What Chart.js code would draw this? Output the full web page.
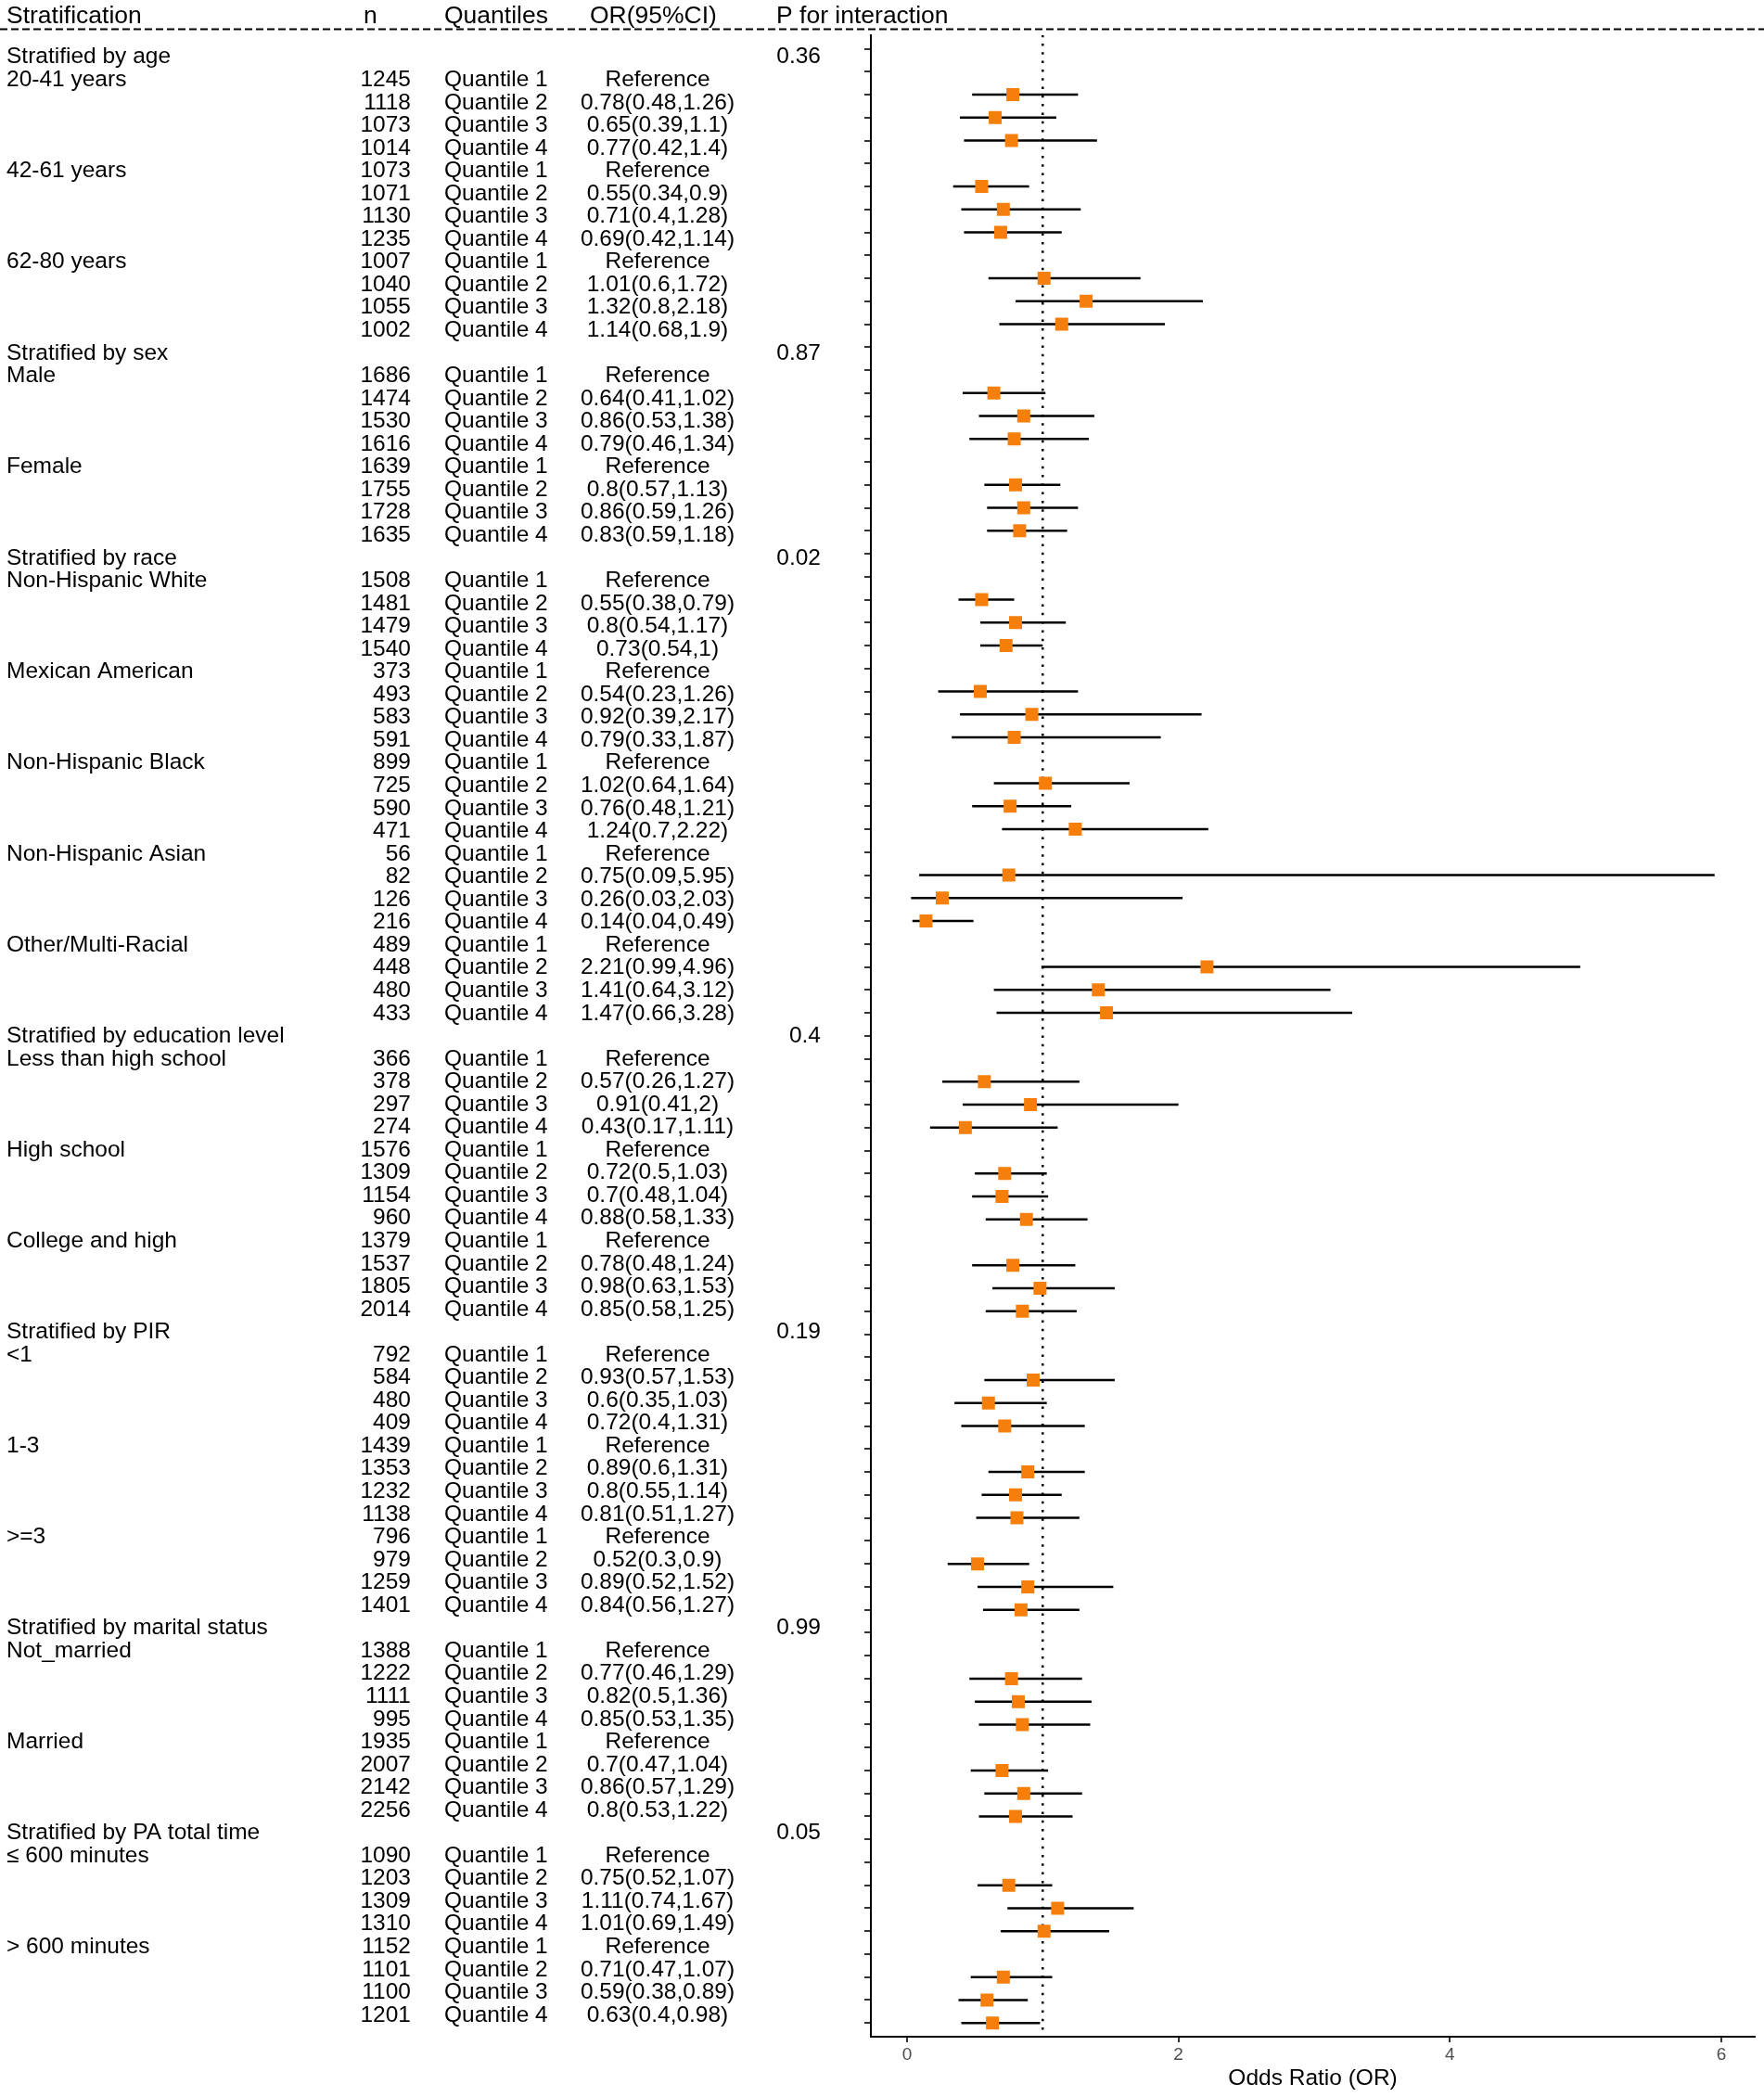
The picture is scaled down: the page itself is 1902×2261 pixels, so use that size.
<!DOCTYPE html>
<html>
<head>
<meta charset="utf-8">
<script src="https://cdn.jsdelivr.net/npm/chart.js@4/dist/chart.umd.min.js"></script>
<style>
  html, body { margin: 0; padding: 0; background: #fff; }
  canvas { display: block; }
</style>
</head>
<body>
<canvas id="forest" width="1902" height="2261"></canvas>
<script>
const columnTitles = ["Stratification", "n", "Quantiles", "OR(95%CI)", "P for interaction"];
const strata = [
  "Stratified by age", "Stratified by sex", "Stratified by race",
  "Stratified by education level", "Stratified by PIR",
  "Stratified by marital status", "Stratified by PA total time"
];
const pInteraction = ["0.36", "0.87", "0.02", "0.4", "0.19", "0.99", "0.05"];
const subgroups = [
  ["20-41 years", "42-61 years", "62-80 years"],
  ["Male", "Female"],
  ["Non-Hispanic White", "Mexican American", "Non-Hispanic Black", "Non-Hispanic Asian", "Other/Multi-Racial"],
  ["Less than high school", "High school", "College and high"],
  ["<1", "1-3", ">=3"],
  ["Not_married", "Married"],
  ["≤ 600 minutes", "> 600 minutes"]
];
const quantileLabels = ["Quantile 1", "Quantile 2", "Quantile 3", "Quantile 4"];
const referenceLabel = "Reference";

// one entry per subgroup, Quantile 1..4
const sampleSizes = [
  [1245, 1118, 1073, 1014], [1073, 1071, 1130, 1235], [1007, 1040, 1055, 1002],
  [1686, 1474, 1530, 1616], [1639, 1755, 1728, 1635],
  [1508, 1481, 1479, 1540], [373, 493, 583, 591], [899, 725, 590, 471], [56, 82, 126, 216], [489, 448, 480, 433],
  [366, 378, 297, 274], [1576, 1309, 1154, 960], [1379, 1537, 1805, 2014],
  [792, 584, 480, 409], [1439, 1353, 1232, 1138], [796, 979, 1259, 1401],
  [1388, 1222, 1111, 995], [1935, 2007, 2142, 2256],
  [1090, 1203, 1309, 1310], [1152, 1101, 1100, 1201]
];
// Quantile 2..4 (Quantile 1 is the reference)
const oddsRatios = [
  [0.78, 0.65, 0.77], [0.55, 0.71, 0.69], [1.01, 1.32, 1.14],
  [0.64, 0.86, 0.79], [0.8, 0.86, 0.83],
  [0.55, 0.8, 0.73], [0.54, 0.92, 0.79], [1.02, 0.76, 1.24], [0.75, 0.26, 0.14], [2.21, 1.41, 1.47],
  [0.57, 0.91, 0.43], [0.72, 0.7, 0.88], [0.78, 0.98, 0.85],
  [0.93, 0.6, 0.72], [0.89, 0.8, 0.81], [0.52, 0.89, 0.84],
  [0.77, 0.82, 0.85], [0.7, 0.86, 0.8],
  [0.75, 1.11, 1.01], [0.71, 0.59, 0.63]
];
const ciLower = [
  [0.48, 0.39, 0.42], [0.34, 0.4, 0.42], [0.6, 0.8, 0.68],
  [0.41, 0.53, 0.46], [0.57, 0.59, 0.59],
  [0.38, 0.54, 0.54], [0.23, 0.39, 0.33], [0.64, 0.48, 0.7], [0.09, 0.03, 0.04], [0.99, 0.64, 0.66],
  [0.26, 0.41, 0.17], [0.5, 0.48, 0.58], [0.48, 0.63, 0.58],
  [0.57, 0.35, 0.4], [0.6, 0.55, 0.51], [0.3, 0.52, 0.56],
  [0.46, 0.5, 0.53], [0.47, 0.57, 0.53],
  [0.52, 0.74, 0.69], [0.47, 0.38, 0.4]
];
const ciUpper = [
  [1.26, 1.1, 1.4], [0.9, 1.28, 1.14], [1.72, 2.18, 1.9],
  [1.02, 1.38, 1.34], [1.13, 1.26, 1.18],
  [0.79, 1.17, 1], [1.26, 2.17, 1.87], [1.64, 1.21, 2.22], [5.95, 2.03, 0.49], [4.96, 3.12, 3.28],
  [1.27, 2, 1.11], [1.03, 1.04, 1.33], [1.24, 1.53, 1.25],
  [1.53, 1.03, 1.31], [1.31, 1.14, 1.27], [0.9, 1.52, 1.27],
  [1.29, 1.36, 1.35], [1.04, 1.29, 1.22],
  [1.07, 1.67, 1.49], [1.07, 0.89, 0.98]
];
const xTicks = [0, 2, 4, 6];
const referenceOR = 1;

// flatten into table rows
const rows = [];
let k = 0;
strata.forEach((name, s) => {
  rows.push({ label: name, p: pInteraction[s] });
  subgroups[s].forEach((sub) => {
    for (let q = 0; q < 4; q++) {
      const ref = q === 0;
      rows.push({
        label: ref ? sub : "",
        n: sampleSizes[k][q],
        quant: quantileLabels[q],
        or: ref ? null : oddsRatios[k][q - 1],
        lo: ref ? null : ciLower[k][q - 1],
        hi: ref ? null : ciUpper[k][q - 1]
      });
    }
    k++;
  });
});
const last = rows.length - 1;

const points = [];
const bars = [];
rows.forEach((r, i) => {
  if (r.or == null) return;
  points.push({ x: r.or, y: i });
  bars.push({ x: r.lo, y: i }, { x: r.hi, y: i }, { x: null, y: null });
});

const FONT = '"Liberation Sans", Arial, Helvetica, sans-serif';

const tablePlugin = {
  id: "table",
  afterDraw(chart) {
    const ctx = chart.ctx;
    const yt = chart.scales.yt;
    ctx.save();
    ctx.fillStyle = "#000";
    ctx.textBaseline = "middle";

    ctx.font = "26.5px " + FONT;
    const headX = [7, 392, 479, 636, 837];
    columnTitles.forEach((t, i) => {
      ctx.textAlign = "left";
      ctx.fillText(t, headX[i], 18);
    });

    ctx.strokeStyle = "#000";
    ctx.lineWidth = 2;
    ctx.setLineDash([8, 4]);
    ctx.beginPath();
    ctx.moveTo(0, 31.5);
    ctx.lineTo(chart.width, 31.5);
    ctx.stroke();
    ctx.setLineDash([]);

    ctx.font = "24.5px " + FONT;
    rows.forEach((r, i) => {
      const y = yt.getPixelForValue(i);
      ctx.textAlign = "left";
      ctx.fillText(r.label, 7, y);
      if (r.p != null) {
        ctx.textAlign = "right";
        ctx.fillText(r.p, 885, y);
        return;
      }
      ctx.textAlign = "right";
      ctx.fillText(String(r.n), 443, y);
      ctx.textAlign = "left";
      ctx.fillText(r.quant, 479, y);
      ctx.textAlign = "center";
      const txt = r.or == null ? referenceLabel : r.or + "(" + r.lo + "," + r.hi + ")";
      ctx.fillText(txt, 709, y);
    });
    ctx.restore();
  }
};

new Chart(document.getElementById("forest"), {
  type: "scatter",
  data: {
    datasets: [
      {
        data: points,
        pointStyle: "rect",
        pointRadius: 9.9,
        pointHoverRadius: 9.9,
        backgroundColor: "#F57F0A",
        borderWidth: 0,
        order: 0
      },
      {
        data: bars,
        showLine: true,
        spanGaps: false,
        borderColor: "#000",
        borderWidth: 2.5,
        pointRadius: 0,
        order: 1
      },
      {
        data: [{ x: referenceOR, y: -0.6 }, { x: referenceOR, y: last + 0.6 }],
        showLine: true,
        borderColor: "#000",
        borderWidth: 2.5,
        borderDash: [2.5, 6.8],
        pointRadius: 0,
        order: 2
      }
    ]
  },
  options: {
    responsive: false,
    devicePixelRatio: 1,
    animation: false,
    layout: { padding: { left: 932, top: 37.7, right: 7, bottom: 0 } },
    plugins: { legend: { display: false }, tooltip: { enabled: false } },
    scales: {
      x: {
        type: "linear",
        min: -0.266,
        max: 6.246,
        afterBuildTicks: (s) => { s.ticks = xTicks.map((v) => ({ value: v })); },
        afterFit: (s) => { s.height = 65; },
        grid: { drawOnChartArea: false, drawTicks: true, tickLength: 6, color: "#333", lineWidth: 2 },
        border: { display: true, color: "#000", width: 2 },
        ticks: { color: "#4D4D4D", font: { family: FONT, size: 19 }, padding: 2 },
        title: { display: true, text: "Odds Ratio (OR)", color: "#000", font: { family: FONT, size: 24.5 }, padding: { top: 0, bottom: 5 } }
      },
      y: {
        type: "linear",
        reverse: true,
        min: -0.6,
        max: last + 0.6,
        afterBuildTicks: (s) => { s.ticks = rows.map((r, i) => ({ value: i })); },
        afterFit: (s) => { s.width = 7; },
        grid: { drawOnChartArea: false, drawTicks: true, tickLength: 7, color: "#333", lineWidth: 2 },
        border: { display: true, color: "#000", width: 2 },
        ticks: { display: false }
      },
      yt: {
        type: "linear",
        position: "right",
        display: false,
        reverse: true,
        min: -0.978,
        max: last + 0.94
      }
    }
  },
  plugins: [tablePlugin]
});
</script>
</body>
</html>
